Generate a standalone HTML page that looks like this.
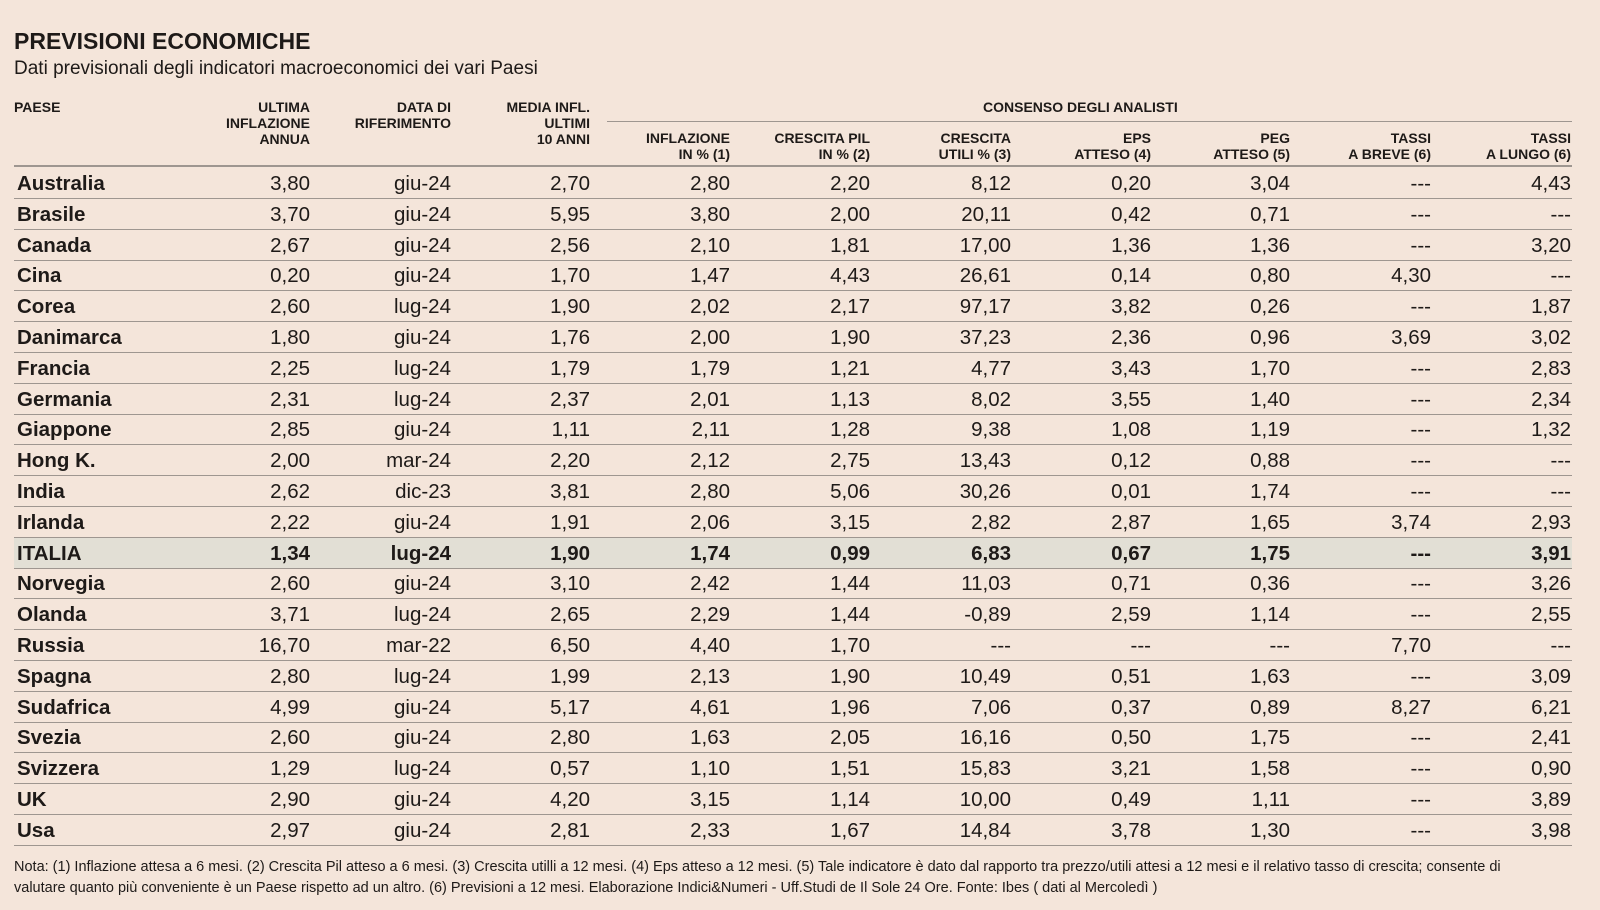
<!DOCTYPE html>
<html><head><meta charset="utf-8">
<style>
body{margin:0;width:1600px;height:910px;background:#f4e5da;font-family:"Liberation Sans",sans-serif;color:#1e1a18;position:relative;overflow:hidden}
.a{position:absolute;white-space:nowrap}
.h{font-family:"Liberation Sans Narrow","Liberation Sans",sans-serif;font-weight:bold;font-size:14px;line-height:16px;text-align:right}
.ln{position:absolute;height:1px;background:#9e9690}
.c{font-size:20.5px;line-height:32px}
</style></head><body>
<div class="a" style="left:14px;top:28px;font-size:23px;font-weight:bold;font-family:'Liberation Sans Narrow','Liberation Sans',sans-serif">PREVISIONI ECONOMICHE</div>
<div class="a" style="left:14px;top:58px;font-size:19px;font-family:'Liberation Sans Narrow','Liberation Sans',sans-serif">Dati previsionali degli indicatori macroeconomici dei vari Paesi</div>
<div id="hdr"></div>
<div class="ln" style="left:607px;width:965px;top:121px"></div>
<div class="ln" style="left:14px;width:1558px;top:165px;height:2px"></div>
<div id="rows"></div>
<div class="a" style="left:14px;top:857px;font-size:14.5px;line-height:20.5px;white-space:normal;width:1500px;font-family:'Liberation Sans Narrow','Liberation Sans',sans-serif">Nota: (1) Inflazione attesa a 6 mesi. (2) Crescita Pil atteso a 6 mesi. (3) Crescita utilli a 12 mesi. (4) Eps atteso a 12 mesi. (5) Tale indicatore è dato dal rapporto tra prezzo/utili attesi a 12 mesi e il relativo tasso di crescita; consente di valutare quanto più conveniente è un Paese rispetto ad un altro. (6) Previsioni a 12 mesi. Elaborazione Indici&amp;Numeri - Uff.Studi de Il Sole 24 Ore. Fonte: Ibes ( dati al Mercoledì )</div>
<script>
const countries=["Australia","Brasile","Canada","Cina","Corea","Danimarca","Francia","Germania","Giappone","Hong K.","India","Irlanda","ITALIA","Norvegia","Olanda","Russia","Spagna","Sudafrica","Svezia","Svizzera","UK","Usa"];
const ultima=["3,80","3,70","2,67","0,20","2,60","1,80","2,25","2,31","2,85","2,00","2,62","2,22","1,34","2,60","3,71","16,70","2,80","4,99","2,60","1,29","2,90","2,97"];
const dataRif=["giu-24","giu-24","giu-24","giu-24","lug-24","giu-24","lug-24","lug-24","giu-24","mar-24","dic-23","giu-24","lug-24","giu-24","lug-24","mar-22","lug-24","giu-24","giu-24","lug-24","giu-24","giu-24"];
const media=["2,70","5,95","2,56","1,70","1,90","1,76","1,79","2,37","1,11","2,20","3,81","1,91","1,90","3,10","2,65","6,50","1,99","5,17","2,80","0,57","4,20","2,81"];
const infl=["2,80","3,80","2,10","1,47","2,02","2,00","1,79","2,01","2,11","2,12","2,80","2,06","1,74","2,42","2,29","4,40","2,13","4,61","1,63","1,10","3,15","2,33"];
const pil=["2,20","2,00","1,81","4,43","2,17","1,90","1,21","1,13","1,28","2,75","5,06","3,15","0,99","1,44","1,44","1,70","1,90","1,96","2,05","1,51","1,14","1,67"];
const utili=["8,12","20,11","17,00","26,61","97,17","37,23","4,77","8,02","9,38","13,43","30,26","2,82","6,83","11,03","-0,89","---","10,49","7,06","16,16","15,83","10,00","14,84"];
const eps=["0,20","0,42","1,36","0,14","3,82","2,36","3,43","3,55","1,08","0,12","0,01","2,87","0,67","0,71","2,59","---","0,51","0,37","0,50","3,21","0,49","3,78"];
const peg=["3,04","0,71","1,36","0,80","0,26","0,96","1,70","1,40","1,19","0,88","1,74","1,65","1,75","0,36","1,14","---","1,63","0,89","1,75","1,58","1,11","1,30"];
const breve=["---","---","---","4,30","---","3,69","---","---","---","---","---","3,74","---","---","---","7,70","---","8,27","---","---","---","---"];
const lungo=["4,43","---","3,20","---","1,87","3,02","2,83","2,34","1,32","---","---","2,93","3,91","3,26","2,55","---","3,09","6,21","2,41","0,90","3,89","3,98"];
const headers=[["ULTIMA<br>INFLAZIONE<br>ANNUA",310,107],["DATA DI<br>RIFERIMENTO",451,107],["MEDIA INFL.<br>ULTIMI<br>10 ANNI",590,107],["INFLAZIONE<br>IN % (1)",730,138],["CRESCITA PIL<br>IN % (2)",870,138],["CRESCITA<br>UTILI % (3)",1011,138],["EPS<br>ATTESO (4)",1151,138],["PEG<br>ATTESO (5)",1290,138],["TASSI<br>A BREVE (6)",1431,138],["TASSI<br>A LUNGO (6)",1571,138]];
const hdr=document.getElementById('hdr');
let h=document.createElement('div');h.className='a h';h.style.cssText='left:14px;top:99px;text-align:left';h.innerHTML='PAESE';


hdr.appendChild(h);
h=document.createElement('div');h.className='a h';h.style.cssText='left:983px;top:99px';h.innerHTML='CONSENSO DEGLI ANALISTI';


hdr.appendChild(h);
headers.forEach(([t,r,y])=>{const d=document.createElement('div');d.className='a h';d.style.right=(1600-r)+'px';d.style.top=(y-8)+'px';d.innerHTML=t;


hdr.appendChild(d);});
const cols=[ultima,dataRif,media,infl,pil,utili,eps,peg,breve,lungo];
const rights=[310,451,590,730,870,1011,1151,1290,1431,1571];
const rows=document.getElementById('rows');
countries.forEach((c,i)=>{
 const top=168+i*30.8;
 const it=c==="ITALIA";
 const row=document.createElement('div');row.className='a';
 row.style.cssText=`left:14px;width:1558px;top:${top}px;height:30px;${it?'background:#e2dfd5;':''}font-weight:${it?'bold':'normal'}`;
 
 
 const n=document.createElement('div');n.className='a c';n.style.cssText='left:3px;top:0;font-weight:bold';n.textContent=c;
 
 
 row.appendChild(n);
 cols.forEach((arr,j)=>{const d=document.createElement('div');d.className='a c';d.style.right=(1572-rights[j])+'px';d.style.top='0';d.textContent=arr[i];
 
 
 row.appendChild(d);});
 rows.appendChild(row);
 const l=document.createElement('div');l.className='ln';l.style.cssText=`left:14px;width:1558px;top:${top+30}px`;
 
 
 rows.appendChild(l);
});
</script>
</body></html>
